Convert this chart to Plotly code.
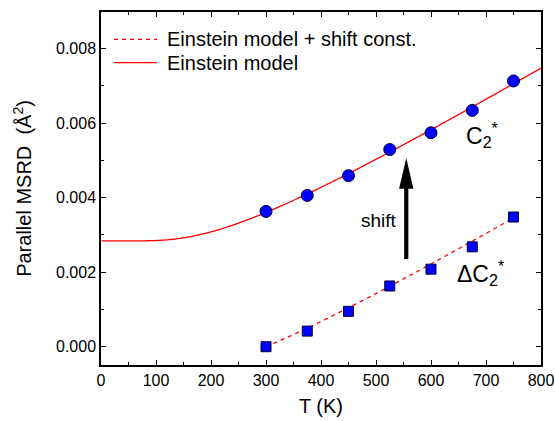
import numpy as np
import plotly.graph_objects as go

# Measured parallel MSRD of the C2* shell and its increment relative to 300 K
temperature_K = [300, 375, 450, 525, 600, 675, 750]
msrd_c2 = [0.00363, 0.00406, 0.00459, 0.00529, 0.00574, 0.00634, 0.00713]
delta_msrd_c2 = [0.0000, 0.00042, 0.00095, 0.00163, 0.00208, 0.00268, 0.00348]

# Einstein model parameters
einstein_temp_K = 640.0      # Einstein temperature
msrd_zero_point = 0.00284    # zero-point MSRD (A^2)
shift_const = 0.00360        # constant offset between the two curves

# Temperature grids for the model curves
model_T = np.linspace(1, 800, 400)
shifted_T = np.linspace(300, 750, 200)


def einstein_msrd(t):
    t = np.asarray(t, dtype=float)
    return msrd_zero_point / np.tanh(einstein_temp_K / (2.0 * t))


FONT = "Arial, Liberation Sans, sans-serif"
RED = "#ff0000"
BLUE = "#0000ff"
DASH = "4px,4px"

fig = go.Figure()

fig.add_trace(go.Scatter(
    x=shifted_T, y=einstein_msrd(shifted_T) - shift_const,
    mode="lines", name="Einstein model + shift const.", showlegend=False,
    line=dict(color=RED, width=1.3, dash=DASH, simplify=False),
))
fig.add_trace(go.Scatter(
    x=model_T, y=einstein_msrd(model_T),
    mode="lines", name="Einstein model", showlegend=False,
    line=dict(color=RED, width=1.3, simplify=False),
))
fig.add_trace(go.Scatter(
    x=temperature_K, y=msrd_c2, mode="markers", showlegend=False,
    marker=dict(symbol="circle", size=12, color=BLUE,
                line=dict(color="#000033", width=1)),
))
fig.add_trace(go.Scatter(
    x=temperature_K, y=delta_msrd_c2, mode="markers", showlegend=False,
    marker=dict(symbol="square", size=10, color=BLUE,
                line=dict(color="#000033", width=1)),
))

# Legend (line samples + labels, placed in the upper-left corner)
legend_rows = [
    ("Einstein model + shift const.", DASH, 0.9227),
    ("Einstein model", "solid", 0.8564),
]
for label, dash, ypos in legend_rows:
    fig.add_shape(type="line", xref="paper", yref="paper",
                  x0=0.0295, x1=0.127, y0=ypos, y1=ypos,
                  line=dict(color=RED, width=1.3, dash=dash))
    fig.add_annotation(xref="paper", yref="paper", x=0.1455, y=ypos,
                       text=label, showarrow=False, xanchor="left",
                       yanchor="middle",
                       font=dict(family=FONT, size=20, color="black"))

# Vertical "shift" arrow
arrow_T = 555
arrow_from = 0.00235
arrow_to = 0.00506
head_len = 0.00082
head_half = 13.0
fig.add_shape(type="line", x0=arrow_T, x1=arrow_T, y0=arrow_from,
              y1=arrow_to - head_len * 0.5, line=dict(color="black", width=4.2))
fig.add_shape(type="path",
              path=(f"M {arrow_T - head_half},{arrow_to - head_len} "
                    f"L {arrow_T},{arrow_to} "
                    f"L {arrow_T + head_half},{arrow_to - head_len} Z"),
              fillcolor="black", line=dict(color="black", width=0))

fig.add_annotation(x=541, y=0.0034, text="shift", showarrow=False,
                   xanchor="right", yanchor="middle",
                   font=dict(family=FONT, size=19, color="black"))
fig.add_annotation(x=660, y=0.00569, text="C<sub>2</sub><sup>*</sup>",
                   showarrow=False, xanchor="left", yanchor="middle",
                   font=dict(family=FONT, size=23, color="black"))
fig.add_annotation(x=644, y=0.00198, text="ΔC<sub>2</sub><sup>*</sup>",
                   showarrow=False, xanchor="left", yanchor="middle",
                   font=dict(family=FONT, size=23, color="black"))

axis_common = dict(
    showline=True, linecolor="black", linewidth=1.5, mirror="allticks",
    ticks="inside", ticklen=5, tickwidth=1.2, tickcolor="black",
    showgrid=False, zeroline=False, automargin=False,
    tickfont=dict(family=FONT, size=16, color="black"),
)

fig.update_xaxes(
    range=[0, 800], tick0=0, dtick=100,
    minor=dict(ticks="inside", ticklen=3, tickwidth=1.2, tickcolor="black", dtick=50),
    title=dict(text="T (K)", font=dict(family=FONT, size=20, color="black"), standoff=11),
    **axis_common,
)
fig.update_yaxes(
    range=[-0.00049, 0.00898], tick0=0, dtick=0.002, tickformat=".3f",
    minor=dict(ticks="inside", ticklen=3, tickwidth=1.2, tickcolor="black", dtick=0.001),
    title=dict(text="Parallel MSRD  (Å<sup>2</sup>)",
               font=dict(family=FONT, size=20, color="black"), standoff=19),
    **axis_common,
)

fig.update_layout(
    width=555, height=421,
    margin=dict(l=101, r=14, t=12, b=56),
    paper_bgcolor="white", plot_bgcolor="white",
    showlegend=False,
)

fig.write_html("out.html")
